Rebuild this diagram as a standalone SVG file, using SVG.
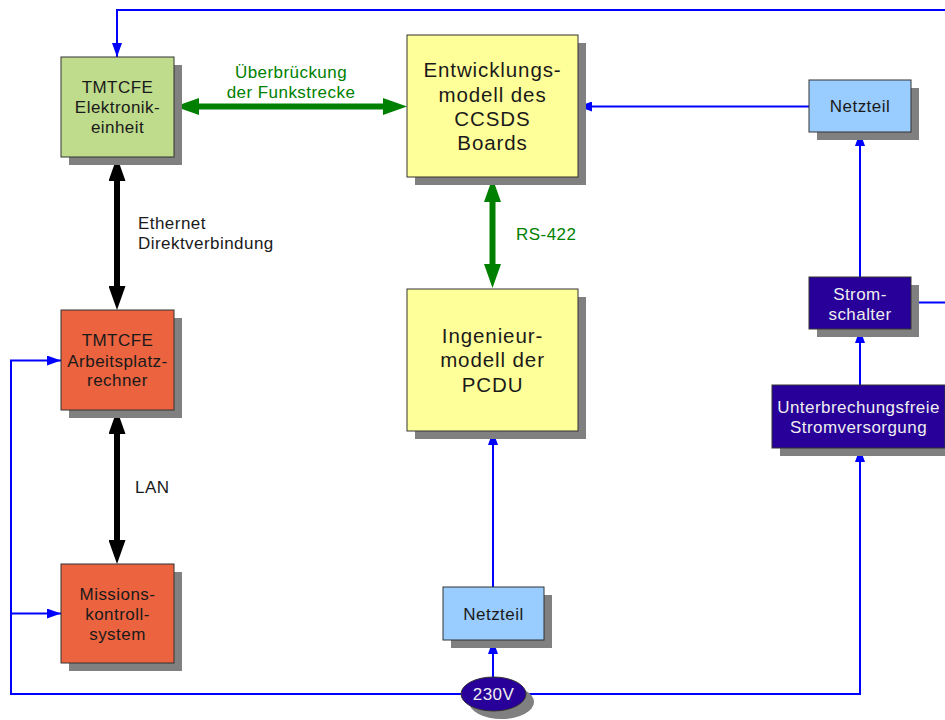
<svg xmlns="http://www.w3.org/2000/svg" width="945" height="720" viewBox="0 0 945 720">
  <style>
    text { font-family: "Liberation Sans", Arial, sans-serif; font-size: 17px; letter-spacing: 0.45px; fill: #1a1a1a; text-anchor: middle; }
    text.big { font-size: 20.5px; letter-spacing: 0.9px; }
    text.light { fill: #eeeeee; }
    text.lbl { text-anchor: start; }
    text.green { fill: #008000; }
    .shadow { fill: #808080; }
    .box { stroke: #333333; stroke-width: 1; }
    .g { fill: #bfdc8c; }
    .r { fill: #eb633f; }
    .y { fill: #ffff99; }
    .b { fill: #99ccff; }
    .n { fill: #280099; }
    .wire { fill: none; stroke: #0000ff; stroke-width: 2; }
    .thick-k { fill: none; stroke: #000000; stroke-width: 6; }
    .thick-g { fill: none; stroke: #008000; stroke-width: 6; }
  </style>
  <defs>
    <marker id="arrBlue" markerUnits="userSpaceOnUse" markerWidth="14" markerHeight="10" refX="14" refY="5" orient="auto">
      <path d="M0,0 L14,5 L0,10 z" fill="#0000ff"/>
    </marker>
    <marker id="arrBlack" markerUnits="userSpaceOnUse" markerWidth="24" markerHeight="17" refX="4" refY="8.5" orient="auto-start-reverse">
      <path d="M0,0 L24,8.5 L0,17 z" fill="#000000"/>
    </marker>
    <marker id="arrGreen" markerUnits="userSpaceOnUse" markerWidth="24" markerHeight="17" refX="4" refY="8.5" orient="auto-start-reverse">
      <path d="M0,0 L24,8.5 L0,17 z" fill="#008000"/>
    </marker>
  </defs>

  <!-- connectors -->
  <g id="connectors">
    <!-- supply wiring -->
    <path class="wire" d="M945,10 H117 V57" marker-end="url(#arrBlue)"/>
    <path class="wire" d="M809,106.5 H578" marker-end="url(#arrBlue)"/>
    <path class="wire" d="M860,277 V132" marker-end="url(#arrBlue)"/>
    <path class="wire" d="M911,302.5 H945"/>
    <path class="wire" d="M860,385 V329" marker-end="url(#arrBlue)"/>
    <path class="wire" d="M526,694 H860 V448" marker-end="url(#arrBlue)"/>
    <path class="wire" d="M493,677 V640" marker-end="url(#arrBlue)"/>
    <path class="wire" d="M493,587 V431" marker-end="url(#arrBlue)"/>
    <path class="wire" d="M461,694 H11 V360.5 H61" marker-end="url(#arrBlue)"/>
    <path class="wire" d="M11,613.5 H61" marker-end="url(#arrBlue)"/>
    <!-- data links -->
    <path class="thick-g" d="M195,106.5 H387" marker-start="url(#arrGreen)" marker-end="url(#arrGreen)"/>
    <path class="thick-g" d="M492.5,198 V268" marker-start="url(#arrGreen)" marker-end="url(#arrGreen)"/>
    <path class="thick-k" d="M117,177 V290" marker-start="url(#arrBlack)" marker-end="url(#arrBlack)"/>
    <path class="thick-k" d="M117,430 V544" marker-start="url(#arrBlack)" marker-end="url(#arrBlack)"/>
    <!-- link labels -->
    <text class="green" x="291" y="78">Überbrückung</text>
    <text class="green" x="291" y="97.5">der Funkstrecke</text>
    <text class="green lbl" x="516" y="239.5">RS-422</text>
    <text class="lbl" x="138" y="229">Ethernet</text>
    <text class="lbl" x="138" y="249">Direktverbindung</text>
    <text class="lbl" x="135" y="493">LAN</text>
  </g>

  <g id="elektronikeinheit">
    <rect class="shadow" x="69" y="65" width="113" height="100"/>
    <rect class="box g" x="61" y="57" width="113" height="100"/>
    <text x="117.5" y="93">TMTCFE</text>
    <text x="117.5" y="113">Elektronik-</text>
    <text x="117.5" y="133">einheit</text>
  </g>

  <g id="arbeitsplatzrechner">
    <rect class="shadow" x="69" y="318" width="113" height="100"/>
    <rect class="box r" x="61" y="310" width="113" height="100"/>
    <text x="117.5" y="346">TMTCFE</text>
    <text x="117.5" y="366.5">Arbeitsplatz-</text>
    <text x="117.5" y="386">rechner</text>
  </g>

  <g id="missionskontrollsystem">
    <rect class="shadow" x="69" y="572" width="113" height="99"/>
    <rect class="box r" x="61" y="564" width="113" height="99"/>
    <text x="117.5" y="600">Missions-</text>
    <text x="117.5" y="620">kontroll-</text>
    <text x="117.5" y="640">system</text>
  </g>

  <g id="entwicklungsmodell">
    <rect class="shadow" x="415" y="43" width="171" height="142"/>
    <rect class="box y" x="407" y="35" width="171" height="142"/>
    <text class="big" x="492.5" y="77">Entwicklungs-</text>
    <text class="big" x="492.5" y="101.5">modell des</text>
    <text class="big" x="492.5" y="126">CCSDS</text>
    <text class="big" x="492.5" y="150">Boards</text>
  </g>

  <g id="ingenieurmodell">
    <rect class="shadow" x="415" y="297" width="171" height="142"/>
    <rect class="box y" x="407" y="289" width="171" height="142"/>
    <text class="big" x="492.5" y="343">Ingenieur-</text>
    <text class="big" x="492.5" y="367">modell der</text>
    <text class="big" x="492.5" y="391.5">PCDU</text>
  </g>

  <g id="netzteil-ccsds">
    <rect class="shadow" x="817" y="88" width="102" height="52"/>
    <rect class="box b" x="809" y="80" width="102" height="52"/>
    <text x="860" y="112">Netzteil</text>
  </g>

  <g id="stromschalter">
    <rect class="shadow" x="817" y="285" width="102" height="52"/>
    <rect class="box n" x="809" y="277" width="102" height="52"/>
    <text class="light" x="860" y="299.5">Strom-</text>
    <text class="light" x="860" y="319.5">schalter</text>
  </g>

  <g id="usv">
    <rect class="shadow" x="780" y="393" width="173" height="63"/>
    <rect class="box n" x="772" y="385" width="173" height="63"/>
    <text class="light" x="858.5" y="413">Unterbrechungsfreie</text>
    <text class="light" x="858.5" y="433">Stromversorgung</text>
  </g>

  <g id="netzteil-pcdu">
    <rect class="shadow" x="451" y="595" width="101" height="53"/>
    <rect class="box b" x="443" y="587" width="101" height="53"/>
    <text x="493.5" y="620">Netzteil</text>
  </g>

  <g id="netz-230v">
    <ellipse class="shadow" cx="501.5" cy="702" rx="32.5" ry="17"/>
    <ellipse class="box n" cx="493.5" cy="694" rx="32.5" ry="17"/>
    <text class="light" x="493.5" y="700">230V</text>
  </g>
</svg>
